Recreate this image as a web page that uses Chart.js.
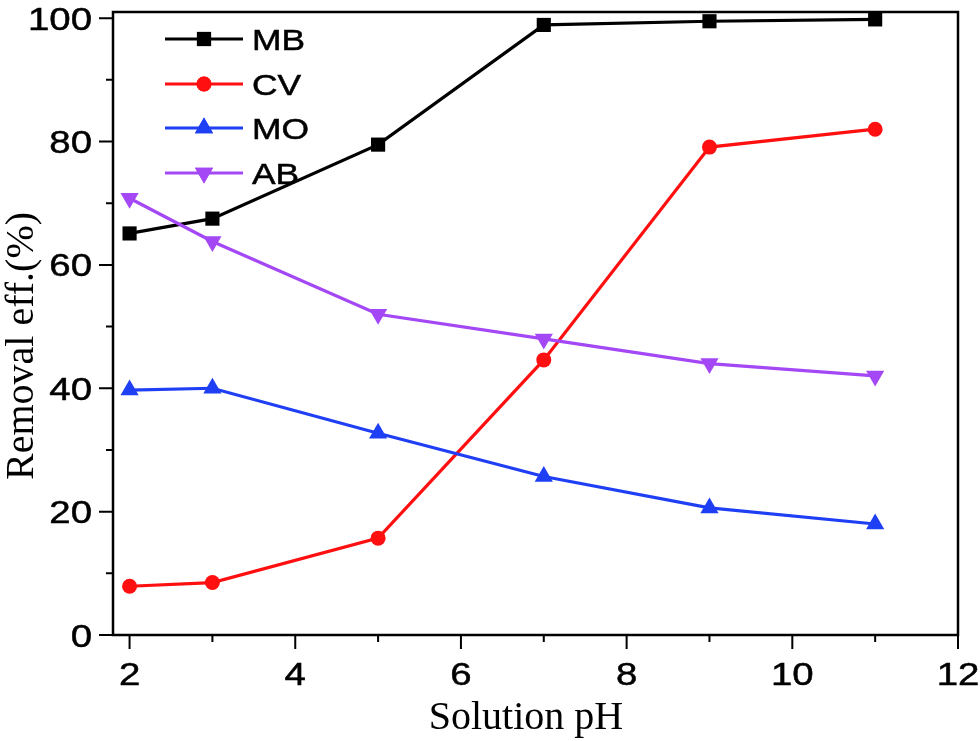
<!DOCTYPE html>
<html><head><meta charset="utf-8">
<script src="https://cdn.jsdelivr.net/npm/chart.js@4"></script>
<style>html,body{margin:0;padding:0;background:#fff}#wrap{width:980px;height:741px}</style>
</head><body><div id="wrap"><canvas id="c" width="980" height="741"></canvas></div>
<script>
const pH = [2, 3, 5, 7, 9, 11];
const MB = [65.1, 67.5, 79.5, 98.9, 99.5, 99.8];
const CV = [7.9, 8.5, 15.7, 44.6, 79.1, 82.0];
const MO = [39.7, 40.0, 32.7, 25.7, 20.6, 18.0];
const AB = [70.8, 63.8, 52.0, 48.0, 44.0, 42.0];
const xTicks = [2, 4, 6, 8, 10, 12];
const xMinor = [3, 5, 7, 9, 11];
const yTicks = [0, 20, 40, 60, 80, 100];
const yMinor = [10, 30, 50, 70, 90];
const seriesNames = ['MB', 'CV', 'MO', 'AB'];
const xTitle = 'Solution pH';
const yTitle = 'Removal eff.(%)';

const SANS = '"Liberation Sans", Arial, sans-serif';
const SERIF = '"Liberation Serif", "Times New Roman", serif';

function pts(ys) { return pH.map((x, i) => ({ x: x, y: ys[i] })); }

const styles = [
  { color: '#000000', pointStyle: 'rect', radius: 10, rotation: 0 },
  { color: '#ff0f0f', pointStyle: 'circle', radius: 7.5, rotation: 0 },
  { color: '#1f3ff5', pointStyle: 'triangle', radius: 10.5, rotation: 0 },
  { color: '#a447f5', pointStyle: 'triangle', radius: 10.5, rotation: 180 }
];
const seriesData = [MB, CV, MO, AB];

const datasets = seriesNames.map((name, i) => ({
  label: name,
  data: pts(seriesData[i]),
  borderColor: styles[i].color,
  backgroundColor: styles[i].color,
  pointBackgroundColor: styles[i].color,
  pointBorderColor: styles[i].color,
  pointBorderWidth: 0,
  pointStyle: styles[i].pointStyle,
  pointRadius: styles[i].radius,
  pointRotation: styles[i].rotation,
  borderWidth: 3.2,
  tension: 0,
  fill: false,
  order: 4 - i
}));

function wideText(ctx, txt, x, y, align, sx) {
  ctx.save();
  ctx.translate(x, y);
  ctx.scale(sx, 1);
  ctx.textAlign = align;
  ctx.fillText(txt, 0, 0);
  ctx.lineWidth = 0.5;
  ctx.strokeStyle = ctx.fillStyle;
  ctx.strokeText(txt, 0, 0);
  ctx.restore();
}

const framePlugin = {
  id: 'frame',
  afterDraw(chart) {
    const ctx = chart.ctx;
    const a = chart.chartArea;
    const xs = chart.scales.x, ys = chart.scales.y;
    ctx.save();
    ctx.strokeStyle = '#000';
    ctx.lineWidth = 2.5;
    ctx.strokeRect(a.left, a.top, a.right - a.left, a.bottom - a.top);
    ctx.lineWidth = 2;
    ctx.beginPath();
    xTicks.forEach(v => { const p = xs.getPixelForValue(v); ctx.moveTo(p, a.bottom); ctx.lineTo(p, a.bottom + 14); });
    xMinor.forEach(v => { const p = xs.getPixelForValue(v); ctx.moveTo(p, a.bottom); ctx.lineTo(p, a.bottom + 7); });
    yTicks.forEach(v => { const p = ys.getPixelForValue(v); ctx.moveTo(a.left, p); ctx.lineTo(a.left - 14, p); });
    yMinor.forEach(v => { const p = ys.getPixelForValue(v); ctx.moveTo(a.left, p); ctx.lineTo(a.left - 7, p); });
    ctx.stroke();

    // tick labels
    ctx.fillStyle = '#000';
    ctx.font = '32px ' + SANS;
    ctx.textBaseline = 'alphabetic';
    xs.ticks.forEach(t => {
      wideText(ctx, String(t.value), xs.getPixelForValue(t.value), 685, 'center', 1.2);
    });
    ys.ticks.forEach(t => {
      wideText(ctx, String(t.value), 92, ys.getPixelForValue(t.value) + 11.5, 'right', 1.2);
    });

    // axis titles
    ctx.font = '40px ' + SERIF;
    ctx.textAlign = 'center';
    ctx.fillText(xTitle, 526, 729);
    ctx.save();
    ctx.translate(33, 346);
    ctx.rotate(-Math.PI / 2);
    ctx.fillText(yTitle, 0, 0);
    ctx.restore();

    // legend
    const rows = [39, 84, 128, 173];
    ctx.font = '29px ' + SANS;
    chart.data.datasets.forEach((ds, i) => {
      const y = rows[i];
      ctx.strokeStyle = ds.borderColor;
      ctx.lineWidth = 3.2;
      ctx.beginPath();
      ctx.moveTo(165, y); ctx.lineTo(243, y);
      ctx.stroke();
      ctx.fillStyle = ds.pointBackgroundColor;
      Chart.helpers.drawPoint(ctx, { pointStyle: ds.pointStyle, radius: ds.pointRadius, rotation: ds.pointRotation, borderWidth: 0 }, 204, y);
      ctx.fill();
      ctx.fillStyle = '#000';
      wideText(ctx, ds.label, 252, y + 10.5, 'left', 1.22);
    });
    ctx.restore();
  }
};

new Chart(document.getElementById('c'), {
  type: 'line',
  data: { datasets: datasets },
  options: {
    responsive: false,
    animation: false,
    devicePixelRatio: 1,
    layout: { padding: { top: 12, right: 22, left: 0, bottom: 0 } },
    plugins: { legend: { display: false }, tooltip: { enabled: false } },
    scales: {
      x: {
        type: 'linear',
        min: 1.8, max: 12,
        grid: { display: false, drawTicks: false },
        border: { display: false },
        afterBuildTicks(s) { s.ticks = xTicks.map(v => ({ value: v })); },
        afterFit(s) { s.height = 106; s.paddingLeft = 0; s.paddingRight = 0; },
        ticks: { display: false }
      },
      y: {
        min: 0, max: 101,
        grid: { display: false, drawTicks: false },
        border: { display: false },
        afterBuildTicks(s) { s.ticks = yTicks.map(v => ({ value: v })); },
        afterFit(s) { s.width = 113; s.paddingTop = 0; s.paddingBottom = 0; },
        ticks: { display: false }
      }
    }
  },
  plugins: [framePlugin]
});
</script>
</body></html>
